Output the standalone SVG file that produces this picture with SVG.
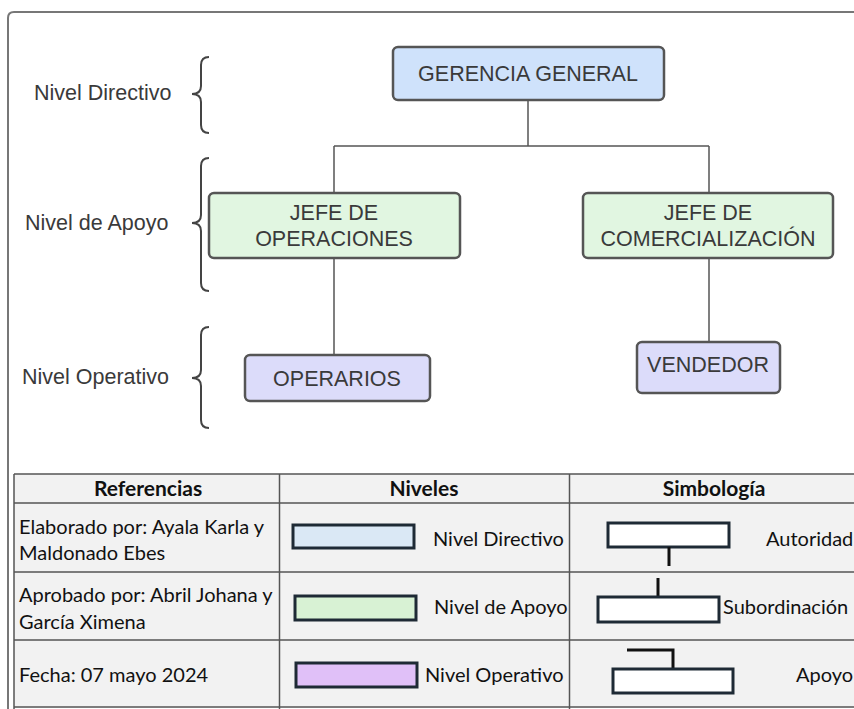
<svg xmlns="http://www.w3.org/2000/svg" width="854" height="709" viewBox="0 0 854 709">
<style>
.node rect{stroke:#555;stroke-width:2.5}
.nt{font-family:"Liberation Sans",Arial,sans-serif;font-size:21.5px;fill:#3a3a3a;text-anchor:middle}
.lbl{font-family:"Liberation Sans",Arial,sans-serif;font-size:21.5px;fill:#3a3a3a}
.brace{fill:none;stroke:#444;stroke-width:2}
.conn line{stroke:#555;stroke-width:1.5}
.tt{font-family:Lato,"Open Sans",sans-serif;font-size:20px;fill:#111}
.th{font-family:Lato,"Open Sans",sans-serif;font-size:21px;font-weight:bold;fill:#111;text-anchor:middle}
.grid{stroke:#555;stroke-width:1.5}
.lg{stroke:#1e2a35;stroke-width:3}
.sym{stroke:#1e2a35;stroke-width:3;fill:#fff}
.symline{stroke:#111;stroke-width:3;fill:none}
</style>
<rect x="0" y="0" width="854" height="709" fill="#fff"/>
<path d="M8,709 L8,18 Q8,12 14,12 L860,12" fill="none" stroke="#777" stroke-width="2"/>

<g id="labels">
<text class="lbl" x="34" y="100">Nivel Directivo</text>
<text class="lbl" x="25" y="230">Nivel de Apoyo</text>
<text class="lbl" x="22" y="384">Nivel Operativo</text>
<path class="brace" d="M209,57 Q201,57 201,65 L201,86 Q201,94 192,94 Q201,94 201,102 L201,125 Q201,133 209,133"/>
<path class="brace" d="M209,158 Q201,158 201,166 L201,215 Q201,223 192,223 Q201,223 201,231 L201,283 Q201,291 209,291"/>
<path class="brace" d="M209,327 Q201,327 201,335 L201,370 Q201,378 192,378 Q201,378 201,386 L201,420 Q201,428 209,428"/>
</g>

<g id="connectors" class="conn">
<line x1="528" y1="100" x2="528" y2="146"/>
<line x1="334" y1="146" x2="709" y2="146"/>
<line x1="334" y1="146" x2="334" y2="193"/>
<line x1="709" y1="146" x2="709" y2="193"/>
<line x1="334" y1="258" x2="334" y2="355"/>
<line x1="709" y1="258" x2="709" y2="342"/>
</g>

<g id="gerencia" class="node">
<rect x="393" y="47" width="271" height="53" rx="5" fill="#cfe2fb"/>
<text class="nt" x="528" y="81">GERENCIA GENERAL</text>
</g>
<g id="jefe-operaciones" class="node">
<rect x="209" y="193" width="251" height="65" rx="5" fill="#e1f6e1"/>
<text class="nt" x="334" y="220">JEFE DE</text>
<text class="nt" x="334" y="246">OPERACIONES</text>
</g>
<g id="jefe-comercializacion" class="node">
<rect x="583" y="193" width="250" height="65" rx="5" fill="#e1f6e1"/>
<text class="nt" x="708" y="220">JEFE DE</text>
<text class="nt" x="708" y="246">COMERCIALIZACIÓN</text>
</g>
<g id="operarios" class="node">
<rect x="245" y="355" width="185" height="46" rx="5" fill="#dcdcfa"/>
<text class="nt" x="337" y="386">OPERARIOS</text>
</g>
<g id="vendedor" class="node">
<rect x="637" y="342" width="143" height="51" rx="5" fill="#dcdcfa"/>
<text class="nt" x="708" y="372">VENDEDOR</text>
</g>

<g id="tabla">
<rect x="14" y="474" width="850" height="234" fill="#f2f2f2"/>
<line class="grid" x1="14" y1="474" x2="854" y2="474"/>
<line class="grid" x1="14" y1="503" x2="854" y2="503"/>
<line class="grid" x1="14" y1="572" x2="854" y2="572"/>
<line class="grid" x1="14" y1="640" x2="854" y2="640"/>
<line class="grid" x1="14" y1="707" x2="854" y2="707"/>
<line class="grid" x1="14" y1="474" x2="14" y2="709"/>
<line class="grid" x1="279.5" y1="474" x2="279.5" y2="709"/>
<line class="grid" x1="569.5" y1="474" x2="569.5" y2="709"/>
<text class="th" x="148" y="496">Referencias</text>
<text class="th" x="424" y="496">Niveles</text>
<text class="th" x="714" y="496">Simbología</text>
<text class="tt" x="19" y="534">Elaborado por: Ayala Karla y</text>
<text class="tt" x="19" y="560">Maldonado Ebes</text>
<text class="tt" x="19" y="602">Aprobado por: Abril Johana y</text>
<text class="tt" x="19" y="629">García Ximena</text>
<text class="tt" x="19" y="682">Fecha: 07 mayo 2024</text>
<rect class="lg" x="293" y="525" width="121" height="23" fill="#dae8f5"/>
<rect class="lg" x="295" y="596" width="121" height="24" fill="#d8f2d4"/>
<rect class="lg" x="296" y="663" width="121" height="24" fill="#e0c0f8"/>
<text class="tt" x="433" y="546">Nivel Directivo</text>
<text class="tt" x="434" y="614">Nivel de Apoyo</text>
<text class="tt" x="425" y="682">Nivel Operativo</text>
<rect class="sym" x="608" y="523" width="121" height="24"/>
<line class="symline" x1="669" y1="547" x2="669" y2="566"/>
<line class="symline" x1="658" y1="578" x2="658" y2="597"/>
<rect class="sym" x="598" y="597" width="121" height="25"/>
<path class="symline" d="M627,650 L673,650 L673,669"/>
<rect class="sym" x="613" y="669" width="120" height="24"/>
<text class="tt" x="766" y="546">Autoridad</text>
<text class="tt" x="723" y="614">Subordinación</text>
<text class="tt" x="796" y="682">Apoyo</text>
</g>
</svg>
